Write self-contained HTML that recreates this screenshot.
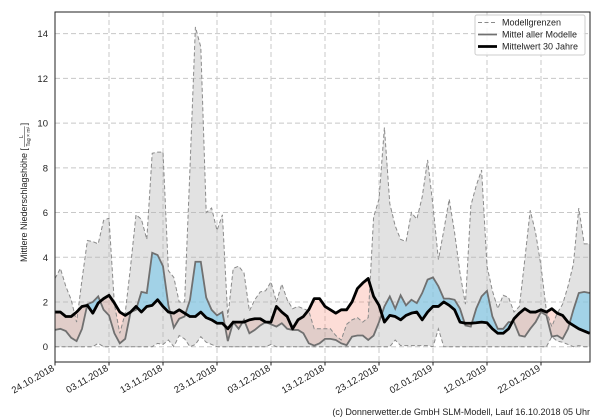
<!DOCTYPE html>
<html><head><meta charset="utf-8"><style>
html,body{margin:0;padding:0;background:#fff;}
svg{display:block;font-family:"Liberation Sans","DejaVu Sans",sans-serif;}
</style></head><body>
<svg id="s" width="600" height="420" xmlns="http://www.w3.org/2000/svg"></svg>
<script>
var mx=[3.05,3.5,2.7,2.1,1.1,3.0,4.75,4.7,4.6,5.65,5.75,1.9,0.6,1.5,3.6,5.9,5.7,4.8,8.65,8.7,8.7,3.4,3.1,2.0,2.0,8,14.3,13.4,6.0,6.2,5.2,5.9,1.3,3.5,3.6,3.3,1.6,2.1,2.45,2.5,2.9,2.0,2.8,2.1,1.7,1.8,1.7,1.6,0.8,0.8,0.8,0.8,0.5,0.3,1.0,1.2,1.3,1.1,1.3,5.8,6.6,9.8,6.4,5.4,4.8,4.7,6.0,5.7,6.7,8.35,6.3,3.9,5.2,6.6,5.1,3.3,1.9,6.3,7.2,7.9,3.6,2.5,1.7,2.3,2.2,1.55,1.8,3.9,6.1,5.1,3.6,1.6,0.9,1.5,1.9,2.7,3.7,6.2,4.6,4.6];
var mn=[0,0,0,0,0,0,0,0,0.15,0,0,0,0,0,0,0,0,0,0,0.15,0.1,0.3,0,0.5,0.35,0,0.1,0.45,0.2,0.1,0,0,0,0,0,0,0,0,0,0,0.1,0,0,0,0,0,0,0,0,0,0,0,0,0,0,0,0,0,0,0,0,0,0,0.3,0.05,0.05,0.05,0.05,0.05,0.05,0,0.8,0,0,0,0,0,0,0,0,0,0,0,0,0,0,0,0,0,0,0,0,0.45,0.25,0.2,0.1,0,0.05,0,0];
var gm=[0.75,0.8,0.7,0.4,0.25,0.8,1.9,2.0,2.25,1.65,1.4,0.6,0.15,0.35,1.55,1.65,2.45,2.4,4.2,4.1,3.6,1.85,0.85,1.25,1.35,2.1,3.8,3.8,2.2,1.65,1.4,1.55,0.25,1.1,0.8,1.2,0.6,0.75,0.95,1.1,1.0,0.9,1.05,0.8,0.75,0.75,0.6,0.15,0.05,0.15,0.35,0.35,0.3,0.15,0.07,0.45,0.5,0.5,0.3,0.5,1.1,1.8,2.25,1.7,2.3,1.85,2.1,1.95,2.4,3.0,3.1,2.7,2.15,2.15,2.1,1.7,0.95,0.9,1.7,2.25,2.5,1.35,0.8,0.8,1.1,1.1,0.5,0.45,0.8,1.1,1.55,1.4,0.45,0.5,0.35,0.8,1.65,2.4,2.45,2.4];
var bk=[1.55,1.55,1.35,1.35,1.55,1.8,1.85,1.5,1.95,2.15,2.3,1.95,1.55,1.4,1.55,1.8,1.55,1.8,1.85,2.1,1.8,1.55,1.5,1.65,1.5,1.35,1.35,1.55,1.3,1.2,1.05,1.05,0.8,1.1,1.1,1.1,1.2,1.25,1.25,1.1,1.1,1.8,1.55,1.35,0.8,1.2,1.35,1.65,2.15,2.15,1.8,1.65,1.5,1.65,1.65,2.0,2.6,2.85,3.05,2.25,1.85,1.1,1.4,1.35,1.2,1.4,1.5,1.55,1.2,1.55,1.8,1.8,2.0,1.85,1.65,1.1,1.05,1.05,1.07,1.1,1.07,0.8,0.6,0.6,0.8,1.25,1.5,1.7,1.55,1.55,1.65,1.55,1.7,1.5,1.4,1.1,0.95,0.8,0.7,0.6];
function X(d){return 55+5.4*d;}function Y(v){return 346.7-22.36*v;}
var h='';
for(var v=0;v<=14;v+=2){h+='<line x1="55" x2="590" y1="'+Y(v)+'" y2="'+Y(v)+'" stroke="#c8c8c8" stroke-dasharray="5,3" stroke-width="1"/>';
h+='<text x="48" y="'+(Y(v)+3.5)+'" font-size="9.5" text-anchor="end" fill="#222">'+v+'</text>';}
var labs=['24.10.2018','03.11.2018','13.11.2018','23.11.2018','03.12.2018','13.12.2018','23.12.2018','02.01.2019','12.01.2019','22.01.2019'];
for(var i=0;i<10;i++){var x=X(i*10);if(i>0)h+='<line x1="'+x+'" x2="'+x+'" y1="12" y2="362" stroke="#c8c8c8" stroke-dasharray="5,3"/>';
h+='<line x1="'+x+'" x2="'+x+'" y1="362" y2="365.5" stroke="#222"/>';
h+='<text transform="translate('+(x)+',370) rotate(-30)" font-size="9.5" text-anchor="end" fill="#222">'+labs[i]+'</text>';}
var p='';for(var d=0;d<100;d++)p+=X(d)+','+Y(mx[d])+' ';for(var d=99;d>=0;d--)p+=X(d)+','+Y(mn[d])+' ';
var S=12;var bl=[],pk=[];
for(var d=0;d<99;d++)for(var k=0;k<=S;k++){if(k==S&&d<98)continue;var t=k/S;var g=gm[d]+(gm[d+1]-gm[d])*t,b=bk[d]+(bk[d+1]-bk[d])*t;var xx=X(d+t);bl.push([xx,Math.max(g,b),b]);pk.push([xx,Math.min(g,b),b]);}
function poly(a,c,o){var s='';a.forEach(function(q){s+=q[0]+','+Y(q[1])+' ';});for(var i=a.length-1;i>=0;i--)s+=a[i][0]+','+Y(a[i][2])+' ';return '<polygon points="'+s+'" fill="'+c+'" fill-opacity="'+o+'"/>';}
h+=poly(pk,'rgb(250,150,130)',0.32);
h+='<polygon points="'+p+'" fill="#b4b4b4" fill-opacity="0.38"/>';
h+=poly(bl,'rgb(120,200,235)',0.6);
function line(a,st){var s='';a.forEach(function(v,d){s+=X(d)+','+Y(v)+' ';});return '<polyline points="'+s+'" fill="none" '+st+'/>';}
h+=line(mx,'stroke="#8a8a8a" stroke-width="1" stroke-dasharray="4,2.5"');
h+=line(mn,'stroke="#8a8a8a" stroke-width="1" stroke-dasharray="4,2.5"');
h+=line(gm,'stroke="#707070" stroke-width="1.8"');
h+=line(bk,'stroke="#000" stroke-width="2.8" stroke-linejoin="round"');
h+='<rect x="55" y="12" width="535" height="350" fill="none" stroke="#222" stroke-width="1"/>';
h+='<rect x="475" y="15" width="110" height="40" fill="#fff" fill-opacity="0.85" stroke="#ccc" rx="2"/>';
h+='<line x1="478" x2="497" y1="22.5" y2="22.5" stroke="#8a8a8a" stroke-dasharray="4,2.5"/><text x="502" y="25.5" font-size="9" fill="#222">Modellgrenzen</text>';
h+='<line x1="478" x2="497" y1="34.5" y2="34.5" stroke="#707070" stroke-width="1.8"/><text x="502" y="37.5" font-size="9" fill="#222">Mittel aller Modelle</text>';
h+='<line x1="478" x2="497" y1="46.5" y2="46.5" stroke="#000" stroke-width="2.8"/><text x="502" y="49.5" font-size="9" fill="#222">Mittelwert 30 Jahre</text>';
h+='<g id="yl" transform="translate(27,262) rotate(-90)"><text id="yt" x="0" y="0" font-size="9" fill="#222">Mittlere Niederschlagshöhe [</text><text id="fn" y="-4" font-size="5" fill="#222" text-anchor="middle">L</text><line id="fl" y1="-2.5" y2="-2.5" stroke="#222" stroke-width="0.5"/><text id="fd" y="3" font-size="5" fill="#222" text-anchor="middle">Tag × m²</text><text id="fb" y="0" font-size="9" fill="#222">]</text></g>';
h+='<text x="590" y="415" font-size="9" text-anchor="end" fill="#222">(c) Donnerwetter.de GmbH SLM-Modell, Lauf 16.10.2018 05 Uhr</text>';
document.getElementById('s').innerHTML=h;
var w=document.getElementById('yt').getComputedTextLength();
var fw=document.getElementById('fd').getComputedTextLength();
var c=w+1.5+fw/2;
document.getElementById('fn').setAttribute('x',c);
document.getElementById('fd').setAttribute('x',c);
var fl=document.getElementById('fl');fl.setAttribute('x1',w+1);fl.setAttribute('x2',w+2+fw);
document.getElementById('fb').setAttribute('x',w+3+fw);
</script>
</body></html>
